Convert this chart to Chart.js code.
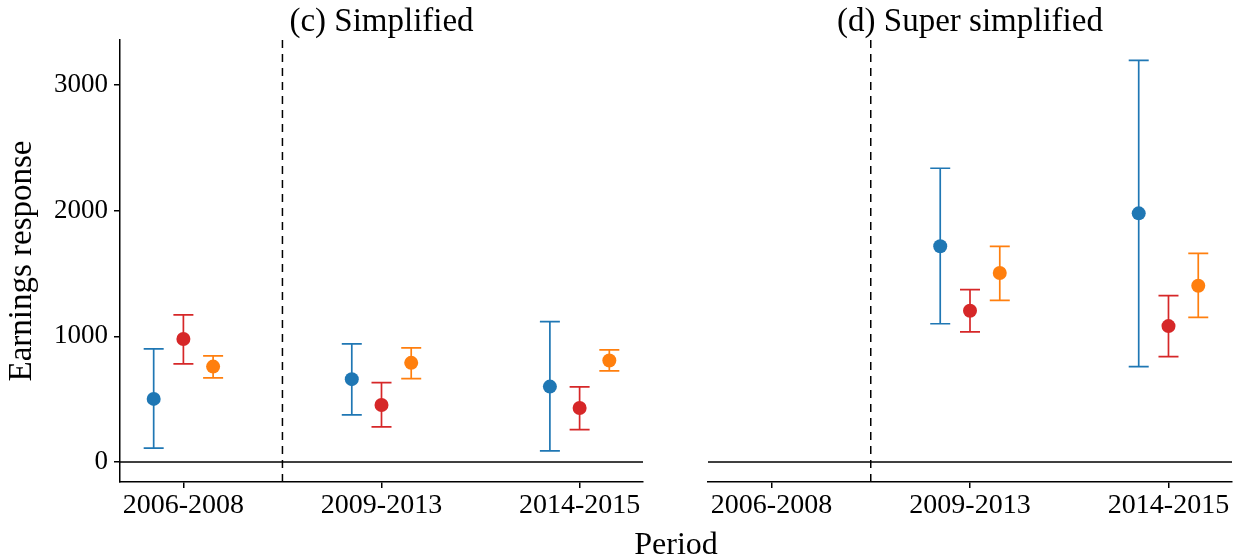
<!DOCTYPE html>
<html>
<head>
<meta charset="utf-8">
<script src="https://cdn.jsdelivr.net/npm/chart.js@4.4.1/dist/chart.umd.min.js"></script>
<style>
  html,body{margin:0;padding:0;background:#fff;width:1244px;height:559px;overflow:hidden;}
  .panel{position:absolute;top:0;height:559px;}
  #period{position:absolute;left:0;width:1352px;top:525px;text-align:center;line-height:36px;
    font-family:"Liberation Serif","DejaVu Serif",serif;font-size:32px;color:#000;}
</style>
</head>
<body>
<div class="panel" style="left:0;width:660px;"><canvas id="left" width="660" height="559"></canvas></div>
<div class="panel" style="left:660px;width:584px;"><canvas id="right" width="584" height="559"></canvas></div>
<div id="period">Period</div>
<script>
// ---- data ----
const categories = ['2006-2008', '2009-2013', '2014-2015'];
const yTicks = [0, 1000, 2000, 3000];
const panelTitles = ['(c) Simplified', '(d) Super simplified'];
const yAxisTitle = 'Earnings response';

// Panel (c) Simplified
const simpBlue = [502, 659, 600];
const simpBlueLo = [111, 375, 88];
const simpBlueHi = [900, 940, 1116];
const simpRed = [978, 454, 430];
const simpRedLo = [781, 279, 257];
const simpRedHi = [1171, 632, 598];
const simpOrange = [759, 789, 807];
const simpOrangeLo = [669, 664, 725];
const simpOrangeHi = [845, 908, 892];

// Panel (d) Super simplified
const superBlue = [null, 1716, 1978];
const superBlueLo = [null, 1100, 759];
const superBlueHi = [null, 2337, 3195];
const superRed = [null, 1203, 1081];
const superRedLo = [null, 1036, 839];
const superRedHi = [null, 1371, 1323];
const superOrange = [null, 1504, 1402];
const superOrangeLo = [null, 1285, 1150];
const superOrangeHi = [null, 1716, 1660];

const breakPosition = 0.5;   // dashed line between first and second period
const referenceValue = 0;    // horizontal reference line

// ---- style ----
const colors = ['#1f77b4', '#d62728', '#ff7f0e'];
const dodge = [-0.15, 0, 0.15];
const X_MIN = -0.32, X_MAX = 2.32, Y_MIN = -159, Y_MAX = 3357;
const FONT = '"Liberation Serif", "DejaVu Serif", serif';

function seriesDataset(vals, lo, hi, k) {
  const pts = [];
  vals.forEach((v, i) => { if (v !== null) pts.push({x: i + dodge[k], y: v, lo: lo[i], hi: hi[i]}); });
  return {
    type: 'scatter', data: pts, order: 0,
    pointRadius: 7, pointHoverRadius: 7, pointBorderWidth: 0,
    backgroundColor: colors[k], borderColor: colors[k], errColor: colors[k]
  };
}

const errorBarPlugin = {
  id: 'errbars',
  beforeDatasetsDraw(chart) {
    const ctx = chart.ctx, xs = chart.scales.x, ys = chart.scales.y;
    chart.data.datasets.forEach(ds => {
      if (!ds.errColor) return;
      ctx.save();
      ctx.strokeStyle = ds.errColor;
      ctx.lineWidth = 1.7;
      ds.data.forEach(p => {
        const px = xs.getPixelForValue(p.x);
        const pl = ys.getPixelForValue(p.lo), ph = ys.getPixelForValue(p.hi);
        const cw = 10;
        ctx.beginPath();
        ctx.moveTo(px, pl); ctx.lineTo(px, ph);
        ctx.moveTo(px - cw, pl); ctx.lineTo(px + cw, pl);
        ctx.moveTo(px - cw, ph); ctx.lineTo(px + cw, ph);
        ctx.stroke();
      });
      ctx.restore();
    });
  }
};

const panelTitlePlugin = {
  id: 'panelTitle',
  afterDraw(chart) {
    const t = chart.options.plugins.panelTitle.text;
    const ca = chart.chartArea, ctx = chart.ctx;
    ctx.save();
    ctx.font = '33px ' + FONT;
    ctx.fillStyle = '#000';
    ctx.textAlign = 'center';
    ctx.textBaseline = 'middle';
    ctx.fillText(t, (ca.left + ca.right) / 2, 22);
    ctx.restore();
  }
};

function makeChart(id, sets, title, showY, padding) {
  const datasets = [
    { type: 'line', data: [{x: X_MIN, y: referenceValue}, {x: X_MAX, y: referenceValue}],
      borderColor: '#000', borderWidth: 1.5, pointRadius: 0, order: 10 },
    { type: 'line', data: [{x: breakPosition, y: Y_MIN}, {x: breakPosition, y: Y_MAX}],
      borderColor: '#000', borderWidth: 1.5, borderDash: [8, 6], pointRadius: 0, order: 10 }
  ].concat(sets.map((s, k) => seriesDataset(s[0], s[1], s[2], k)));

  return new Chart(document.getElementById(id), {
    data: { datasets },
    plugins: [errorBarPlugin, panelTitlePlugin],
    options: {
      responsive: false, animation: false, devicePixelRatio: 1,
      layout: { padding },
      plugins: { legend: {display: false}, tooltip: {enabled: false}, panelTitle: {text: title} },
      scales: {
        x: {
          type: 'linear', min: X_MIN, max: X_MAX,
          afterBuildTicks: s => { s.ticks = categories.map((c, i) => ({value: i})); },
          afterFit: s => { s.height = 77; },
          ticks: { callback: v => categories[v], color: '#000', font: {family: FONT, size: 28}, padding: 1, maxRotation: 0 },
          grid: { drawOnChartArea: false, drawTicks: true, tickLength: 6, color: '#000', lineWidth: 1.5 },
          border: { display: true, color: '#000', width: 1.5 }
        },
        y: {
          display: showY, min: Y_MIN, max: Y_MAX,
          afterBuildTicks: s => { s.ticks = yTicks.map(v => ({value: v})); },
          afterFit: s => { s.width = showY ? 120 : 0; },
          ticks: { callback: v => String(v), color: '#000', font: {family: FONT, size: 27}, padding: 6 },
          grid: { drawOnChartArea: false, drawTicks: true, tickLength: 6, color: '#000', lineWidth: 1.5 },
          border: { display: true, color: '#000', width: 1.5 },
          title: { display: true, text: yAxisTitle, color: '#000', font: {family: FONT, size: 33}, padding: {top: 3, bottom: 0} }
        }
      }
    }
  });
}

makeChart('left', [
  [simpBlue, simpBlueLo, simpBlueHi],
  [simpRed, simpRedLo, simpRedHi],
  [simpOrange, simpOrangeLo, simpOrangeHi]
], panelTitles[0], true, {left: 0, right: 17, top: 40, bottom: 0});

makeChart('right', [
  [superBlue, superBlueLo, superBlueHi],
  [superRed, superRedLo, superRedHi],
  [superOrange, superOrangeLo, superOrangeHi]
], panelTitles[1], false, {left: 48, right: 12, top: 40, bottom: 0});
</script>
</body>
</html>
